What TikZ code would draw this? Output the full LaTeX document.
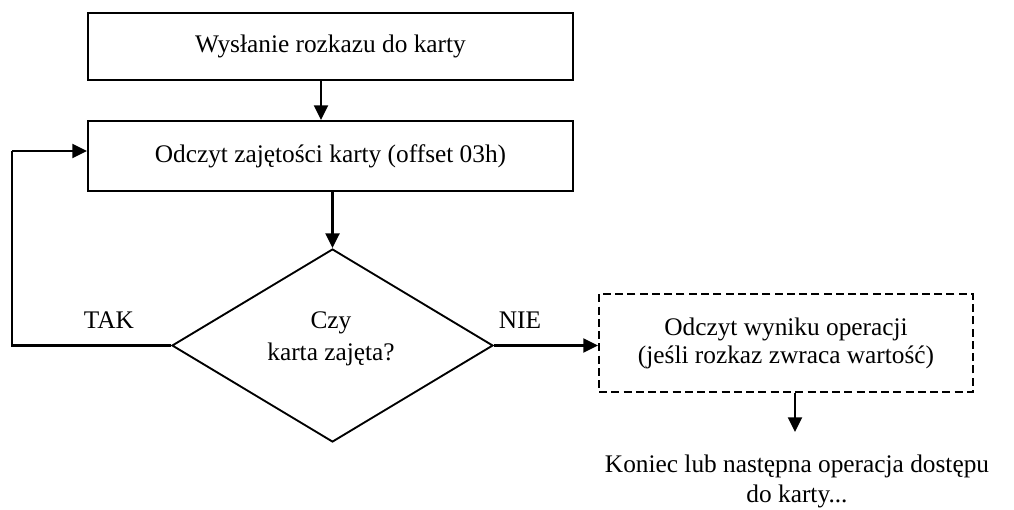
\documentclass[tikz,border=0pt]{standalone}
\usepackage{fontspec}
\setmainfont{Liberation Serif}
\usetikzlibrary{shapes.geometric,arrows.meta}
\begin{document}
\begin{tikzpicture}[x=0.75pt,y=-0.75pt,
  every node/.style={font=\fontsize{19pt}{23pt}\selectfont},
  box/.style={draw,line width=1.6pt,rectangle,inner sep=0pt},
  dbox/.style={draw,line width=1.6pt,rectangle,inner sep=0pt,dash pattern=on 6pt off 3.2pt},
  decision/.style={draw,line width=1.4pt,diamond,inner sep=0pt},
  flow/.style={line width=1.6pt,-{Triangle[width=10.5pt,length=11pt]}},
  plain/.style={line width=1.6pt}]
\useasboundingbox (0,0) rectangle (1014,510);
% process boxes
\node[box,minimum width=485*0.75pt,minimum height=67*0.75pt] (send) at (330.5,46.5) {Wysłanie rozkazu do karty};
\node[box,minimum width=485*0.75pt,minimum height=70*0.75pt] (busy) at (330.5,156) {Odczyt zajętości karty (offset 03h)};
% decision
\node[decision,minimum width=321*0.75pt,minimum height=193*0.75pt] (dec) at (332.5,345.5) {};
\node[align=center,font=\fontsize{19pt}{24pt}\selectfont] (q) at (331,338.5) {Czy\\karta zajęta?};
% optional result box
\node[dbox,minimum width=374*0.75pt,minimum height=98*0.75pt] (res) at (786,343) {};
\node[align=center,font=\fontsize{19pt}{21pt}\selectfont] (restxt) at (786,343) {Odczyt wyniku operacji\\(jeśli rozkaz zwraca wartość)};
\node[align=center,font=\fontsize{19pt}{22pt}\selectfont] (end) at (797,481.5) {Koniec lub następna operacja dostępu\\do karty...};
% branch labels
\node (tak) at (109,320) {TAK};
\node (nie) at (520,320) {NIE};
% connectors
\coordinate (s1) at (321,80);
\coordinate (loopT) at (12,151);
\coordinate (endTip) at (795,432);
\draw[flow] (s1) -- (s1 |- busy.north);
\draw[flow] (busy.south -| dec.north) -- (dec.north);
\draw[plain] (dec.west) -- (dec.west -| loopT) -- (loopT);
\draw[flow] (loopT) -- (loopT -| busy.west);
\draw[flow] (dec.east) -- (res.west |- dec.east);
\draw[flow] (res.south -| endTip) -- (endTip);
\end{tikzpicture}
\end{document}
